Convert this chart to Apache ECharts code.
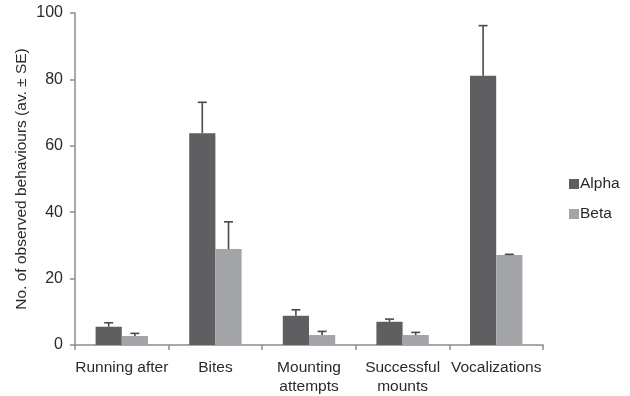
<!DOCTYPE html>
<html>
<head>
<meta charset="utf-8">
<script src="https://cdn.jsdelivr.net/npm/echarts@6/dist/echarts.min.js"></script>
<style>
  html, body { margin: 0; padding: 0; background: #fff; }
  #chart { width: 630px; height: 396px; }
</style>
</head>
<body>
<div id="chart"></div>
<script>
// Behaviour categories and group means with standard errors
var categories = ['Running after', 'Bites', 'Mounting\nattempts', 'Successful\nmounts', 'Vocalizations'];
var alphaMeans = [5.5, 63.8, 8.8, 7.0, 81.1];
var alphaSE = [1.2, 9.3, 1.8, 0.8, 15.1];
var betaMeans = [2.7, 28.9, 3.0, 3.0, 27.1];
var betaSE = [0.8, 8.2, 1.1, 0.8, 0.2];
var yTicks = [0, 20, 40, 60, 80, 100];

var FONT = 'Liberation Sans, Arial, sans-serif';
var TEXT_COLOR = '#2a2a2a';
var AXIS_COLOR = '#8c8c8c';
var BAR_WIDTH_FRAC = 0.28;

// Upward-only error whiskers, placed over the matching bar within each category band
function errorSeries(means, errs, side) {
  var data = means.map(function (m, i) { return [i, m, m + errs[i]]; });
  return {
    type: 'custom',
    silent: true,
    z: 5,
    data: data,
    encode: { x: 0, y: [1, 2] },
    renderItem: function (params, api) {
      var idx = api.value(0);
      var low = api.coord([idx, api.value(1)]);
      var high = api.coord([idx, api.value(2)]);
      var band = api.size([1, 0])[0];
      var x = low[0] + side * band * BAR_WIDTH_FRAC / 2;
      var cap = 4.5;
      var style = { stroke: '#4a4a4a', lineWidth: 1.6 };
      return {
        type: 'group',
        children: [
          { type: 'line', shape: { x1: x, y1: low[1], x2: x, y2: high[1] }, style: style },
          { type: 'line', shape: { x1: x - cap, y1: high[1], x2: x + cap, y2: high[1] }, style: style }
        ]
      };
    }
  };
}

var chart = echarts.init(document.getElementById('chart'));
chart.setOption({
  animation: false,
  backgroundColor: '#ffffff',
  textStyle: { fontFamily: FONT },
  grid: { left: 75, right: 87, top: 13, bottom: 51 },
  legend: {
    data: ['Alpha', 'Beta'],
    orient: 'vertical',
    left: 569,
    top: 176,
    padding: 0,
    icon: 'rect',
    itemWidth: 10,
    itemHeight: 10,
    itemGap: 14,
    textStyle: { fontFamily: FONT, fontSize: 15.5, color: TEXT_COLOR, padding: [0, 0, 0, -4] }
  },
  xAxis: {
    type: 'category',
    data: categories,
    axisLine: { lineStyle: { color: AXIS_COLOR, width: 1.5 } },
    axisTick: { show: true, alignWithLabel: false, length: 5, lineStyle: { color: AXIS_COLOR, width: 1.5 } },
    axisLabel: { color: TEXT_COLOR, fontSize: 15.5, fontFamily: FONT, margin: 13, lineHeight: 19, interval: 0 }
  },
  yAxis: {
    type: 'value',
    min: yTicks[0],
    max: yTicks[yTicks.length - 1],
    interval: 20,
    name: 'No. of observed behaviours (av. \u00b1 SE)',
    nameLocation: 'middle',
    nameGap: 45,
    nameMoveOverlap: false,
    nameTextStyle: { color: TEXT_COLOR, fontSize: 15.5, fontFamily: FONT },
    splitLine: { show: false },
    axisLine: { show: true, lineStyle: { color: AXIS_COLOR, width: 1.5 } },
    axisTick: { show: true, length: 5, lineStyle: { color: AXIS_COLOR, width: 1.5 } },
    axisLabel: { color: TEXT_COLOR, fontSize: 16, fontFamily: FONT, margin: 12 }
  },
  series: [
    {
      name: 'Alpha',
      type: 'bar',
      data: alphaMeans,
      barWidth: (BAR_WIDTH_FRAC * 100) + '%',
      barGap: '0%',
      itemStyle: { color: '#5f5f62' }
    },
    {
      name: 'Beta',
      type: 'bar',
      data: betaMeans,
      barWidth: (BAR_WIDTH_FRAC * 100) + '%',
      barGap: '0%',
      itemStyle: { color: '#a3a4a7' }
    },
    errorSeries(alphaMeans, alphaSE, -1),
    errorSeries(betaMeans, betaSE, 1)
  ]
});
</script>
</body>
</html>
